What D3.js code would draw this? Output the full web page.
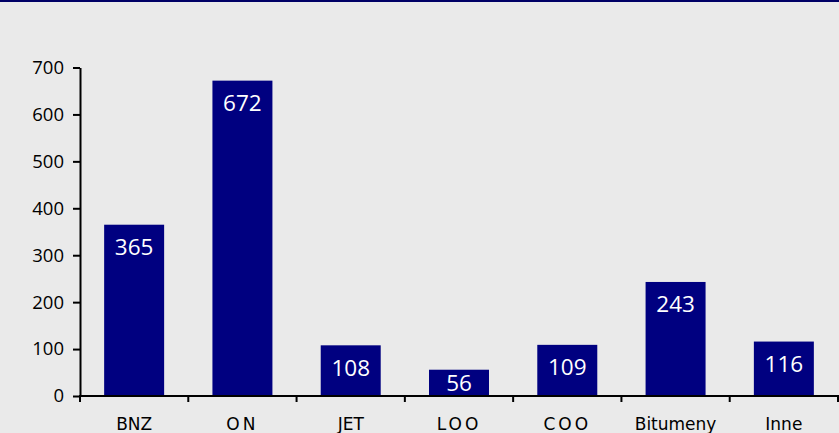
<!DOCTYPE html>
<html>
<head>
<meta charset="utf-8">
<script src="https://cdn.jsdelivr.net/npm/d3@7"></script>
<style>
  html, body { margin: 0; padding: 0; background: #EAEAEA; }
  svg { display: block; }
</style>
</head>
<body>
<svg id="chart" width="839" height="433"></svg>
<script>
const categories = ["BNZ", "ON", "JET", "LOO", "COO", "Bitumeny", "Inne"];
const values = [365, 672, 108, 56, 109, 243, 116];
const yTicks = [0, 100, 200, 300, 400, 500, 600, 700];

const W = 839, H = 433;
const svg = d3.select("#chart");

svg.append("rect").attr("x", 0).attr("y", 0).attr("width", W).attr("height", H).attr("fill", "#EAEAEA");
svg.append("rect").attr("x", 0).attr("y", 0).attr("width", W).attr("height", 2).attr("fill", "#000066");

const x0 = 80, x1 = 838, yBase = 396, yTop = 67.5;

const x = d3.scaleBand().domain(categories).range([x0, x1]).paddingInner(0.446).paddingOuter(0.223);
const y = d3.scaleLinear().domain([0, 700]).range([yBase, yTop]);

// Bars
svg.append("g").selectAll("rect").data(values).join("rect")
  .attr("x", (d, i) => x(categories[i]))
  .attr("y", d => y(d))
  .attr("width", x.bandwidth())
  .attr("height", d => yBase - y(d))
  .attr("fill", "#000080");

// Value labels
svg.append("g").selectAll("text").data(values).join("text")
  .attr("x", (d, i) => x(categories[i]) + x.bandwidth() / 2)
  .attr("y", d => Math.min(y(d) + 22, yBase - 13.5))
  .attr("text-anchor", "middle")
  .attr("dominant-baseline", "central")
  .attr("font-family", "'Open Sans', sans-serif")
  .attr("font-size", 22.5)
  .attr("fill", "#FFFFFF")
  .text(d => d);

// Y axis
const yAxis = d3.axisLeft(y).tickValues(yTicks).tickSize(7).tickPadding(9).tickSizeOuter(0);
const gy = svg.append("g").attr("transform", `translate(${x0},0)`).call(yAxis);
gy.select(".domain").attr("stroke", "#000").attr("stroke-width", 2);
gy.selectAll(".tick line").attr("stroke", "#000").attr("stroke-width", 2);
gy.selectAll(".tick text")
  .attr("font-family", "'Open Sans', sans-serif")
  .attr("font-size", 18.5)
  .attr("fill", "#000");

// X axis line
const gx = svg.append("g");
gx.append("line")
  .attr("x1", x0 - 1).attr("x2", W)
  .attr("y1", yBase).attr("y2", yBase)
  .attr("stroke", "#000").attr("stroke-width", 2);

// Category boundary ticks
const step = x.step();
const half = step * x.paddingInner() / 2;
const boundaries = categories.map(c => x(c) - half).concat([x(categories[categories.length - 1]) + x.bandwidth() + half]);
gx.selectAll("line.tk").data(boundaries).join("line")
  .attr("class", "tk")
  .attr("x1", d => d).attr("x2", d => d)
  .attr("y1", yBase).attr("y2", yBase + 6)
  .attr("stroke", "#000").attr("stroke-width", 2);

// Category labels
gx.selectAll("text").data(categories).join("text")
  .attr("x", d => x(d) + x.bandwidth() / 2)
  .attr("y", 430)
  .attr("text-anchor", "middle")
  .attr("font-family", "'DejaVu Sans', sans-serif")
  .attr("font-size", 17)
  .attr("letter-spacing", d => /O/.test(d) ? "3px" : null)
  .attr("fill", "#000")
  .text(d => d);
</script>
</body>
</html>
